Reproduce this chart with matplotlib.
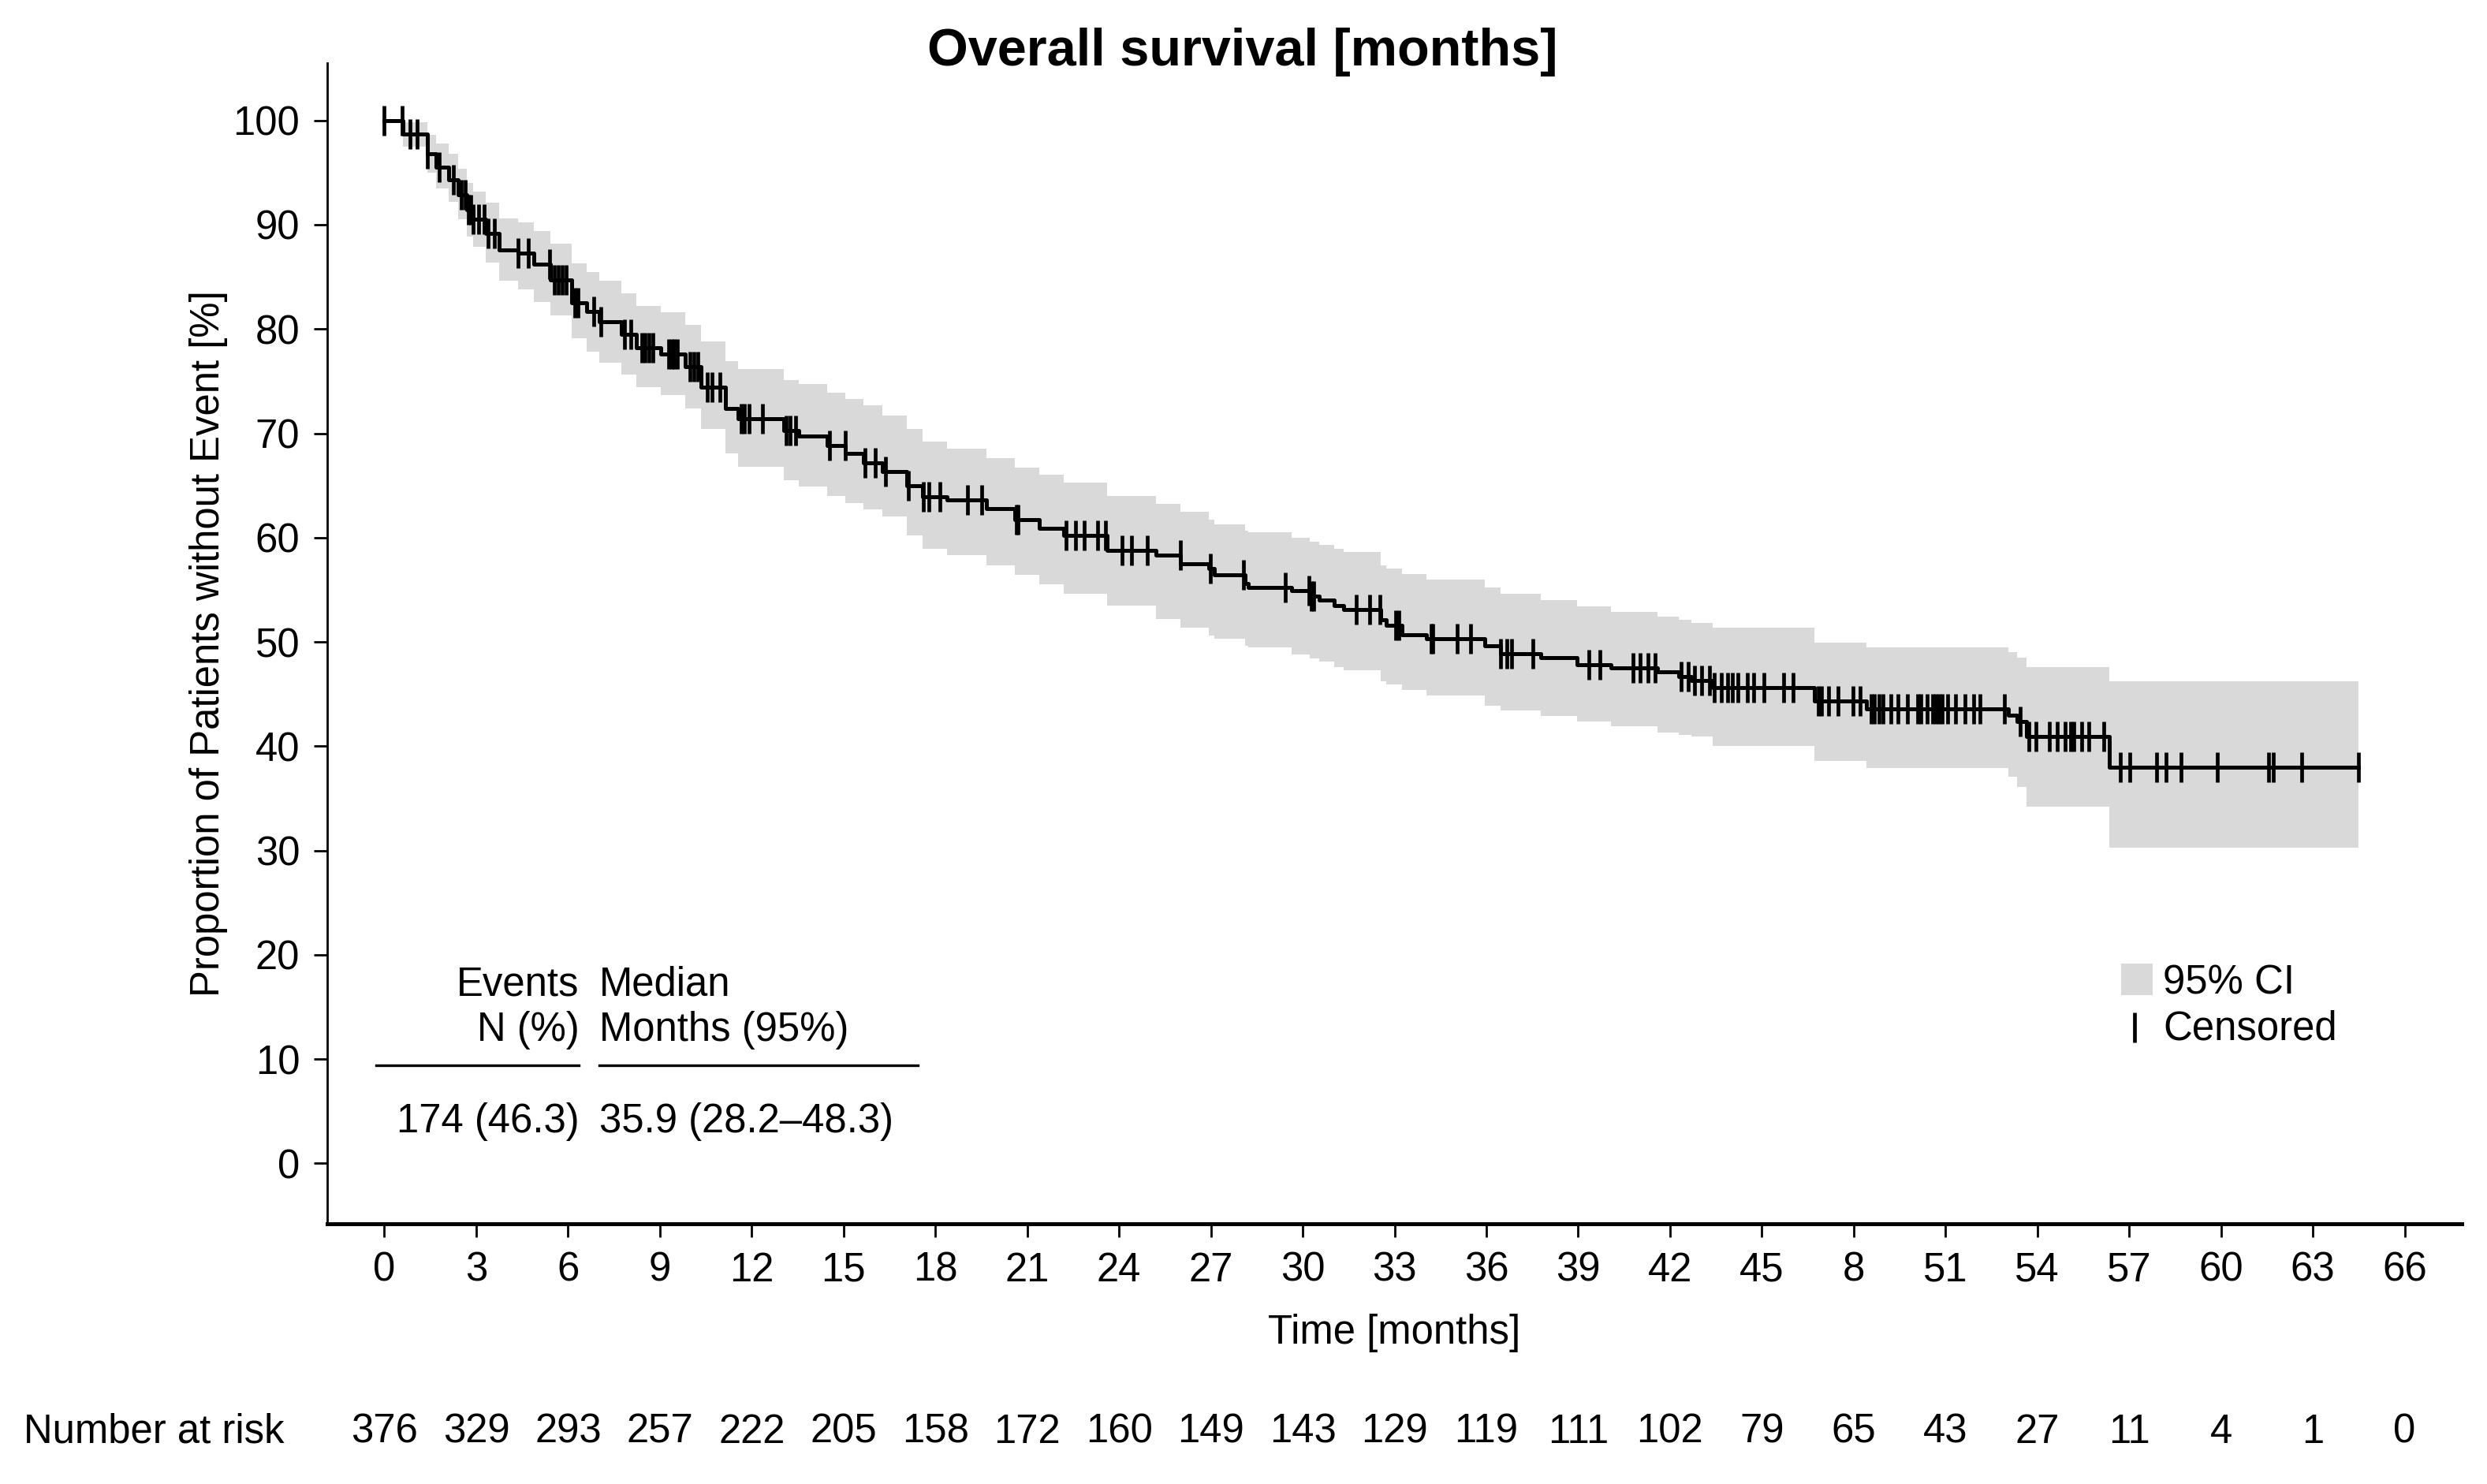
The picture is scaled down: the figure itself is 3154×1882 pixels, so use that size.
import numpy as np
import matplotlib
matplotlib.use("Agg")
import matplotlib.pyplot as plt
from matplotlib.patches import Rectangle
from matplotlib.transforms import blended_transform_factory

plt.rcParams['font.family'] = ['Liberation Sans', 'DejaVu Sans']

# ------------------------------- DATA ------------------------------- #
# Kaplan-Meier steps (months, % without event)
step_t = [0.0, 0.6, 1.4, 1.7, 2.1, 2.4, 2.7, 2.9, 3.31, 3.76, 4.36, 4.87, 5.42, 6.12,
          6.62, 7.03, 7.73, 8.23, 9.03, 9.84, 10.34, 11.14, 11.55, 13.05, 13.55,
          14.46, 15.06, 15.66, 16.27, 17.07, 17.57, 18.38, 19.68, 20.59, 21.39, 22.2,
          23.6, 25.21, 26.01, 26.92, 27.12, 28.12, 28.22, 29.63, 30.23, 30.53, 31.04,
          31.34, 32.54, 32.74, 33.25, 34.05, 35.96, 36.46, 37.77, 38.97, 40.08, 41.58,
          42.29, 42.69, 43.39, 46.71, 48.42, 53.04, 53.34, 53.64, 56.35]
surv = [100, 98.7, 96.8, 95.5, 94.3, 92.9, 91.4, 90.5, 89.2, 87.6, 87.3, 86.2, 84.7,
        82.5, 81.7, 80.7, 79.5, 78.2, 77.6, 76.4, 74.4, 72.4, 71.4, 70.3, 69.7, 68.8,
        68.1, 67.2, 66.3, 65.0, 63.9, 63.6, 62.8, 61.7, 60.9, 60.2, 58.8, 58.3, 57.5,
        57.0, 56.4, 55.6, 55.2, 54.9, 54.4, 54.0, 53.5, 53.1, 52.1, 51.6, 50.7, 50.3,
        49.6, 48.9, 48.5, 47.8, 47.5, 47.1, 46.7, 46.3, 45.6, 44.3, 43.6, 43.0, 42.4,
        40.9, 38.0]
ci_lo = [100, 97.5, 95.0, 93.5, 92.2, 90.5, 88.9, 87.9, 86.4, 84.6, 83.8, 82.6, 81.3,
         79.1, 77.8, 76.8, 75.6, 74.4, 73.7, 72.4, 70.4, 68.1, 66.8, 65.5, 64.9, 64.0,
         63.3, 62.7, 62.0, 60.2, 58.9, 58.3, 57.3, 56.4, 55.5, 54.6, 53.5, 52.2, 51.4,
         50.6, 50.3, 49.6, 49.5, 48.8, 48.4, 48.1, 47.6, 47.3, 46.2, 45.9, 45.4, 44.9,
         43.9, 43.4, 42.9, 42.4, 41.9, 41.3, 41.1, 40.9, 40.0, 38.6, 37.9, 37.1, 36.1,
         34.2, 30.3]
ci_hi = [100, 99.8, 98.6, 97.8, 96.8, 95.4, 94.0, 93.2, 92.1, 90.6, 90.2, 89.4, 88.2,
         86.3, 85.5, 84.6, 83.4, 82.2, 81.6, 80.4, 78.8, 76.9, 76.2, 75.1, 74.7, 73.9,
         73.3, 72.7, 71.7, 70.4, 69.2, 68.5, 67.6, 66.7, 66.0, 65.3, 64.0, 63.2, 62.5,
         61.7, 61.3, 60.7, 60.5, 60.0, 59.6, 59.3, 58.9, 58.6, 57.3, 57.0, 56.5, 56.0,
         55.2, 54.6, 54.0, 53.4, 52.9, 52.4, 52.1, 51.8, 51.4, 49.9, 49.5, 49.0, 48.5,
         47.6, 46.2]
t_end = 64.5

# censoring times (months)
censor_t = [0.0, 0.57, 0.84, 1.08, 1.4, 1.78, 2.25, 2.51, 2.64, 2.74, 2.82, 2.91,
            3.08, 3.25, 3.38, 3.59, 4.36, 4.7, 5.39, 5.56, 5.69, 5.82, 5.95, 6.21,
            6.33, 6.85, 7.07, 7.84, 8.05, 8.4, 8.52, 8.65, 8.78, 9.3, 9.39, 9.47,
            9.56, 9.99, 10.11, 10.24, 10.54, 10.71, 10.97, 11.66, 11.75, 11.92, 12.35,
            13.12, 13.25, 13.43, 14.54, 15.05, 15.69, 16.04, 16.38, 17.12, 17.62,
            17.79, 18.15, 19.04, 19.51, 20.64, 20.71, 22.27, 22.57, 22.87, 23.3,
            23.55, 24.11, 24.41, 24.93, 26.0, 26.99, 28.06, 29.43, 30.2, 30.29,
            30.37, 31.75, 32.18, 32.52, 33.03, 33.13, 34.2, 34.25, 35.05, 35.49,
            36.47, 36.68, 36.83, 37.53, 39.34, 39.7, 40.78, 41.02, 41.27, 41.51,
            42.36, 42.6, 42.8, 43.04, 43.29, 43.44, 43.68, 43.89, 44.04, 44.23,
            44.53, 44.72, 45.07, 45.7, 46.01, 46.84, 46.94, 47.19, 47.48, 47.97,
            48.22, 48.57, 48.67, 48.82, 48.96, 49.21, 49.45, 49.75, 50.09, 50.19,
            50.4, 50.59, 50.69, 50.79, 50.89, 51.08, 51.33, 51.63, 51.93, 52.13,
            52.93, 53.44, 53.71, 53.96, 54.4, 54.65, 54.9, 55.09, 55.19, 55.44,
            55.68, 56.17, 56.71, 57.02, 57.9, 58.2, 58.69, 59.87, 61.55, 61.7,
            62.63, 64.5]

x_ticks = list(range(0, 67, 3))
x_tick_labels = ['0', '3', '6', '9', '12', '15', '18', '21', '24', '27', '30', '33',
                 '36', '39', '42', '45', '8', '51', '54', '57', '60', '63', '66']
at_risk = [376, 329, 293, 257, 222, 205, 158, 172, 160, 149, 143, 129, 119, 111,
           102, 79, 65, 43, 27, 11, 4, 1, 0]

events_txt = "174 (46.3)"
median_txt = "35.9 (28.2\u201348.3)"

# ------------------------------- PLOT ------------------------------- #
fig = plt.figure(figsize=(15.77, 9.41), dpi=200)
ax = fig.add_axes([0.1316, 0.1753, 0.8582, 0.7822])

fs = 18.3
t_all = step_t + [t_end]
fill_lo = ci_lo + [ci_lo[-1]]
fill_hi = ci_hi + [ci_hi[-1]]
ax.fill_between(t_all, fill_lo, fill_hi, step='post', color='#d9d9d9', lw=0, zorder=1)

s_all = surv + [surv[-1]]
ax.step(t_all, s_all, where='post', color='black', lw=1.8, zorder=3)

# censor marks sit on the curve
idx = np.searchsorted(step_t, censor_t, side='right') - 1
censor_s = [surv[i] for i in idx]
ax.plot(censor_t, censor_s, ls='none', marker='|', ms=13.5, mew=1.7, color='black', zorder=4)

ax.set_xlim(-1.865, 67.86)
ax.set_ylim(-5.8, 105.5)
ax.set_xticks(x_ticks)
ax.set_xticklabels(x_tick_labels)
ax.set_yticks(range(0, 101, 10))
ax.tick_params(direction='out', length=6, width=1.0, labelsize=fs, pad=6.5)
for side in ['top', 'right']:
    ax.spines[side].set_visible(False)
ax.spines['left'].set_linewidth(1.0)
ax.spines['bottom'].set_linewidth(1.8)

ax.set_xlabel("Time [months]", fontsize=fs, labelpad=11)
ax.set_ylabel("Proportion of Patients without Event [%]", fontsize=fs, labelpad=2.2)

fig.text(0.4997, 0.965, "Overall survival [months]", ha='center', va='center',
         fontsize=24, fontweight='bold')

# summary table
ax.text(6.36, 17.1, "Events", ha='right', va='center', fontsize=fs)
ax.text(6.36, 12.75, "N (%)", ha='right', va='center', fontsize=fs)
ax.text(7.02, 17.1, "Median", ha='left', va='center', fontsize=fs)
ax.text(7.02, 12.75, "Months (95%)", ha='left', va='center', fontsize=fs)
ax.plot([-0.28, 6.36], [9.4, 9.4], color='black', lw=1.2)
ax.plot([7.02, 17.43], [9.4, 9.4], color='black', lw=1.2)
ax.text(6.36, 4.0, events_txt, ha='right', va='center', fontsize=fs)
ax.text(7.02, 4.0, median_txt, ha='left', va='center', fontsize=fs)

# legend
ax.add_patch(Rectangle((56.73, 16.13), 1.03, 3.0, color='#d9d9d9', lw=0))
ax.text(58.1, 17.3, "95% CI", ha='left', va='center', fontsize=fs)
ax.plot([57.17], [13.0], marker='|', ms=13.5, mew=1.7, color='black', ls='none')
ax.text(58.1, 12.9, "Censored", ha='left', va='center', fontsize=fs)

# number at risk
trans = blended_transform_factory(ax.transData, fig.transFigure)
fig.text(30 / 3154, 1 - 1816 / 1882, "Number at risk", ha='left', va='center', fontsize=fs)
for xt, n in zip(x_ticks, at_risk):
    ax.text(xt, 1 - 1816 / 1882, str(n), transform=trans, ha='center', va='center',
            fontsize=fs)

fig.savefig("out.png", dpi=200)
